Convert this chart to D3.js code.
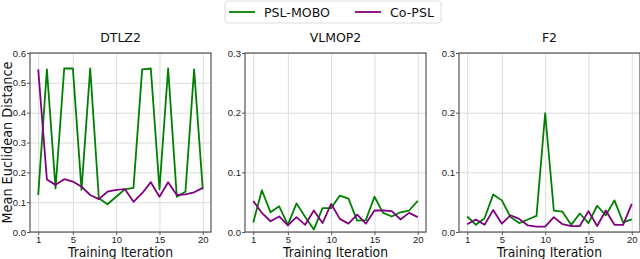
<!DOCTYPE html>
<html>
<head>
<meta charset="utf-8">
<script src="https://cdn.jsdelivr.net/npm/d3@7.9.0/dist/d3.min.js"></script>
<style>
  body { margin: 0; background: #fff; }
  svg { display: block; font-family: "DejaVu Sans", sans-serif; }
  .tick text { font-size: 9.5px; fill: #222; }
  .grid line { stroke: #dcdcdc; stroke-width: 1; }
  .grid .domain { display: none; }
</style>
</head>
<body>
<div id="chart"></div>
<script>
const iterations = d3.range(1, 21);
const xTicks = [1, 5, 10, 15, 20];
const seriesNames = ["PSL-MOBO", "Co-PSL"];
const seriesColors = ["#008000", "#800080"];
const panelTitles = ["DTLZ2", "VLMOP2", "F2"];
const panelYMax = [0.6, 0.3, 0.3];

const dtlz2Psl = [0.124, 0.545, 0.146, 0.548, 0.548, 0.141, 0.548, 0.113, 0.093, 0.118,
  0.143, 0.148, 0.545, 0.548, 0.143, 0.548, 0.118, 0.135, 0.545, 0.143];
const dtlz2Co = [0.545, 0.176, 0.158, 0.177, 0.169, 0.152, 0.124, 0.110, 0.135, 0.141,
  0.144, 0.101, 0.130, 0.167, 0.118, 0.167, 0.124, 0.126, 0.133, 0.148];
const vlmop2Psl = [0.016, 0.070, 0.033, 0.043, 0.012, 0.048, 0.025, 0.004, 0.040, 0.040,
  0.061, 0.056, 0.019, 0.020, 0.059, 0.032, 0.026, 0.033, 0.036, 0.052];
const vlmop2Co = [0.052, 0.032, 0.018, 0.026, 0.011, 0.025, 0.012, 0.036, 0.015, 0.047,
  0.022, 0.014, 0.029, 0.014, 0.036, 0.036, 0.035, 0.021, 0.032, 0.025];
const f2Psl = [0.026, 0.012, 0.023, 0.063, 0.053, 0.025, 0.015, 0.021, 0.027, 0.199,
  0.036, 0.034, 0.012, 0.031, 0.015, 0.044, 0.028, 0.053, 0.016, 0.021];
const f2Co = [0.013, 0.021, 0.012, 0.037, 0.014, 0.028, 0.022, 0.011, 0.009, 0.009,
  0.025, 0.013, 0.010, 0.010, 0.035, 0.010, 0.036, 0.012, 0.012, 0.047];

const panelData = [[dtlz2Psl, dtlz2Co], [vlmop2Psl, vlmop2Co], [f2Psl, f2Co]];

const width = 640;
const height = 259;
const panelLeft = [30, 245, 459];
const panelWidth = 181;
const plotTop = 53;
const plotBottom = 232;

const svg = d3.select("#chart").append("svg")
  .attr("width", width)
  .attr("height", height);

panelTitles.forEach((title, i) => {
  const x0 = panelLeft[i];
  const xScale = d3.scaleLinear()
    .domain([0.05, 20.95])
    .range([x0, x0 + panelWidth]);
  const yScale = d3.scaleLinear()
    .domain([0, panelYMax[i]])
    .range([plotBottom, plotTop]);
  const yTicks = d3.range(0, panelYMax[i] + 1e-9, 0.1);

  const g = svg.append("g");

  // grid
  g.append("g")
    .attr("class", "grid")
    .attr("transform", `translate(0,${plotBottom})`)
    .call(d3.axisBottom(xScale).tickValues(xTicks).tickFormat("").tickSize(-(plotBottom - plotTop)));
  g.append("g")
    .attr("class", "grid")
    .attr("transform", `translate(${x0},0)`)
    .call(d3.axisLeft(yScale).tickValues(yTicks).tickFormat("").tickSize(-panelWidth));

  // lines
  const line = d3.line()
    .x((d, j) => xScale(iterations[j]))
    .y((d) => yScale(d));
  panelData[i].forEach((values, k) => {
    g.append("path")
      .datum(values)
      .attr("fill", "none")
      .attr("stroke", seriesColors[k])
      .attr("stroke-width", 1.8)
      .attr("stroke-linejoin", "round")
      .attr("d", line);
  });

  // frame
  g.append("rect")
    .attr("x", x0)
    .attr("y", plotTop)
    .attr("width", panelWidth)
    .attr("height", plotBottom - plotTop)
    .attr("fill", "none")
    .attr("stroke", "#555")
    .attr("stroke-width", 1.2);

  // axes
  const xAxis = g.append("g")
    .attr("transform", `translate(0,${plotBottom})`)
    .call(d3.axisBottom(xScale).tickValues(xTicks).tickSize(3).tickPadding(1.5));
  const yAxis = g.append("g")
    .attr("transform", `translate(${x0},0)`)
    .call(d3.axisLeft(yScale).tickValues(yTicks).tickFormat(d3.format(".1f")).tickSize(3).tickPadding(1));
  [xAxis, yAxis].forEach((a) => {
    a.select(".domain").remove();
    a.selectAll(".tick line").attr("stroke", "#555");
  });

  // title
  g.append("text")
    .attr("x", x0 + panelWidth / 2)
    .attr("y", 42)
    .attr("text-anchor", "middle")
    .attr("font-size", 12.5)
    .attr("fill", "#111")
    .text(title);

  // x label
  g.append("text")
    .attr("x", x0 + panelWidth / 2)
    .attr("y", 256.5)
    .attr("text-anchor", "middle")
    .attr("font-size", 13.5)
    .attr("textLength", 105)
    .attr("lengthAdjust", "spacingAndGlyphs")
    .attr("fill", "#111")
    .text("Training Iteration");
});

svg.append("text")
  .attr("transform", `translate(12,${(plotTop + plotBottom) / 2}) rotate(-90)`)
  .attr("text-anchor", "middle")
  .attr("font-size", 14)
  .attr("textLength", 162)
  .attr("lengthAdjust", "spacingAndGlyphs")
  .attr("fill", "#111")
  .text("Mean Euclidean Distance");

// legend
const legend = svg.append("g").attr("transform", "translate(225,1)");
legend.append("rect")
  .attr("width", 216)
  .attr("height", 22)
  .attr("rx", 3)
  .attr("fill", "#fff")
  .attr("stroke", "#ddd");
const legendX = [4, 130];
const legendTextLen = [66, 44];
seriesNames.forEach((name, k) => {
  const item = legend.append("g").attr("transform", `translate(${legendX[k]},11)`);
  item.append("line")
    .attr("x1", 0).attr("x2", 26)
    .attr("stroke", seriesColors[k])
    .attr("stroke-width", 1.8);
  item.append("text")
    .attr("x", 35)
    .attr("y", 4.6)
    .attr("font-size", 13)
    .attr("textLength", legendTextLen[k])
    .attr("lengthAdjust", "spacingAndGlyphs")
    .attr("fill", "#111")
    .text(name);
});
</script>
</body>
</html>
